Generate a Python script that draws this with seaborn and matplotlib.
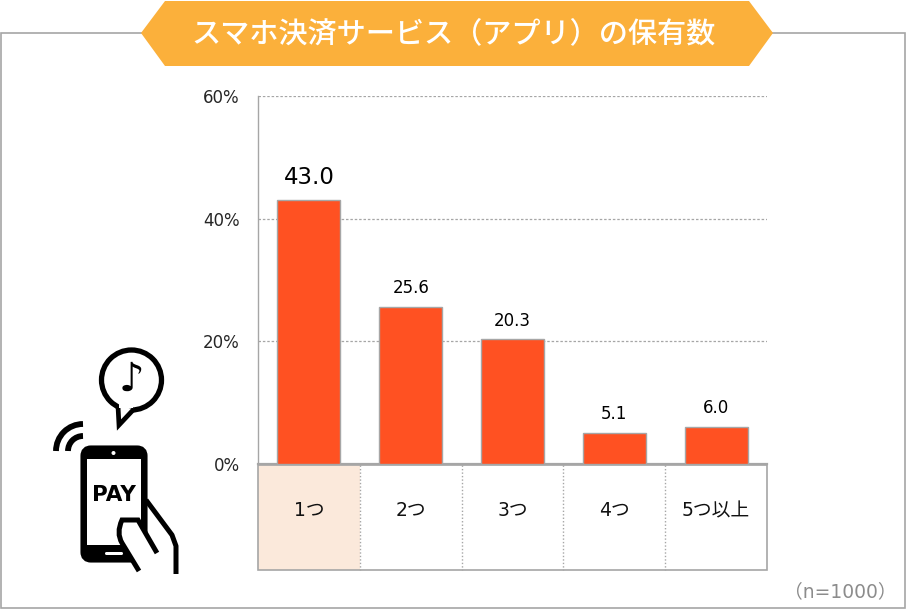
import matplotlib
matplotlib.use("Agg")
import matplotlib.pyplot as plt
from matplotlib.patches import Polygon, Rectangle, Circle, FancyBboxPatch, Arc, PathPatch
from matplotlib.path import Path
import pandas as pd
import seaborn as sns

categories = ["1つ", "2つ", "3つ", "4つ", "5つ以上"]
values = [43.0, 25.6, 20.3, 5.1, 6.0]
y_ticks = [0, 20, 40, 60]
y_tick_labels = ["0%", "20%", "40%", "60%"]
title = "スマホ決済サービス（アプリ）の保有数"
note = "（n=1000）"

sns.set_theme(style="white")
plt.rcParams["font.family"] = ["DejaVu Sans", "Noto Sans CJK JP"]

W, H = 908, 609
GRAY = "#a6a6a6"
fig = plt.figure(figsize=(W / 100, H / 100), dpi=100, facecolor="white")

# full-figure overlay in pixel coordinates for the frame, banner, table and icon
bg = fig.add_axes([0, 0, 1, 1], zorder=0)
bg.set_xlim(0, W)
bg.set_ylim(H, 0)
bg.axis("off")

bg.add_patch(Rectangle((1, 33), 904, 575, fc="white", ec=GRAY, lw=1.2))
bg.add_patch(Polygon([(141, 33), (165, 1), (749, 1), (773, 33), (749, 66), (165, 66)],
                     closed=True, fc="#FBB03B", ec="none", zorder=3))
bg.text(454, 33.5, title, color="white", fontsize=21, fontweight="medium",
        family="Noto Sans CJK JP", ha="center", va="center", zorder=4)

# category table under the plot
left, right, top, bottom = 258, 767, 465, 570
cell = (right - left) / len(categories)
bg.add_patch(Rectangle((left, top), cell, bottom - top, fc="#FBE9DB", ec="none"))
bg.add_patch(Rectangle((left, top), right - left, bottom - top, fc="none", ec=GRAY, lw=1.2))
for i, lab in enumerate(categories):
    if i:
        bg.plot([left + i * cell] * 2, [top, bottom], color=GRAY, lw=1, ls=(0, (1, 1.5)))
    bg.text(left + (i + 0.5) * cell, 511, lab, color="#111111", fontsize=13.5,
            ha="center", va="center")
bg.text(897, 592, note, color="#8c8c8c", fontsize=13.5, ha="right", va="center")

# icon: speech bubble
bg.add_patch(Circle((131.5, 380), 30, fc="white", ec="black", lw=3.8, zorder=2))
bg.add_patch(Polygon([(118, 406), (119, 425), (134, 409)], closed=False, fc="white",
                     ec="black", lw=3.4, joinstyle="miter", zorder=3))
bg.add_patch(Rectangle((119, 402), 14, 6, fc="white", ec="none", zorder=3.5))
bg.text(131, 380, "♪", color="black", fontsize=29, family="DejaVu Sans",
        ha="center", va="center", zorder=4)
# icon: wireless arcs
for r in (15, 27):
    bg.add_patch(Arc((83, 451), 2 * r, 2 * r, theta1=180, theta2=270, color="black", lw=4.2))
# icon: hand behind phone
bg.plot([146, 172, 176, 176], [500, 535, 546, 574], color="black", lw=3.6,
        solid_joinstyle="round", solid_capstyle="butt", zorder=2)
# icon: phone
bg.add_patch(FancyBboxPatch((86, 451), 56, 106, boxstyle="round,pad=0,rounding_size=5",
                            fc="black", ec="black", lw=8, zorder=3))
bg.add_patch(Rectangle((87, 459), 54, 86, fc="white", ec="none", zorder=4))
bg.add_patch(Circle((113.5, 453), 2, fc="white", ec="none", zorder=4))
bg.add_patch(FancyBboxPatch((105, 552), 18, 3, boxstyle="round,pad=0,rounding_size=1.5",
                            fc="white", ec="none", zorder=4))
bg.text(113.5, 495, "PAY", color="black", fontsize=15.5, fontweight="bold",
        family="DejaVu Sans", ha="center", va="center", zorder=5)
# icon: finger
finger = Path([(139, 571), (122, 543), (116, 533), (122, 520), (130, 520), (138, 520),
               (142, 527), (157, 553)],
              [Path.MOVETO, Path.LINETO, Path.CURVE3, Path.CURVE3, Path.CURVE3, Path.CURVE3,
               Path.LINETO, Path.LINETO][:8])
bg.add_patch(PathPatch(finger, fc="white", ec="black", lw=3.6, capstyle="butt", zorder=6))

# chart
ax = fig.add_axes([258 / W, 1 - 464 / H, (767 - 258) / W, (464 - 96) / H], zorder=2)
ax.patch.set_alpha(0)
df = pd.DataFrame({"category": categories, "value": values})
sns.barplot(data=df, x="category", y="value", color="#FF5122", saturation=1, width=0.62,
            edgecolor=GRAY, linewidth=1, ax=ax, zorder=3)
ax.set_xlim(-0.5, len(categories) - 0.5)
ax.set_ylim(0, 60)
ax.set_xlabel("")
ax.set_ylabel("")
ax.set_xticks([])
ax.set_yticks(y_ticks, y_tick_labels)
ax.tick_params(axis="y", length=0, pad=13, labelsize=12, labelcolor="#262626")
ax.yaxis.grid(True, color=GRAY, lw=0.9, ls=(0, (2, 1.5)))
ax.set_axisbelow(True)
for s in ("top", "right"):
    ax.spines[s].set_visible(False)
ax.spines["left"].set_color(GRAY)
ax.spines["left"].set_linewidth(1)
ax.spines["bottom"].set_color(GRAY)
ax.spines["bottom"].set_linewidth(1.6)

for i, v in enumerate(values):
    top_bar = i == 0
    ax.annotate(f"{v:.1f}", (i, v), xytext=(0, 8 if top_bar else 7), textcoords="offset points",
                ha="center", va="bottom", color="black",
                fontsize=16.5 if top_bar else 12, fontweight="medium" if top_bar else "normal")

fig.savefig("out.png", dpi=100)
